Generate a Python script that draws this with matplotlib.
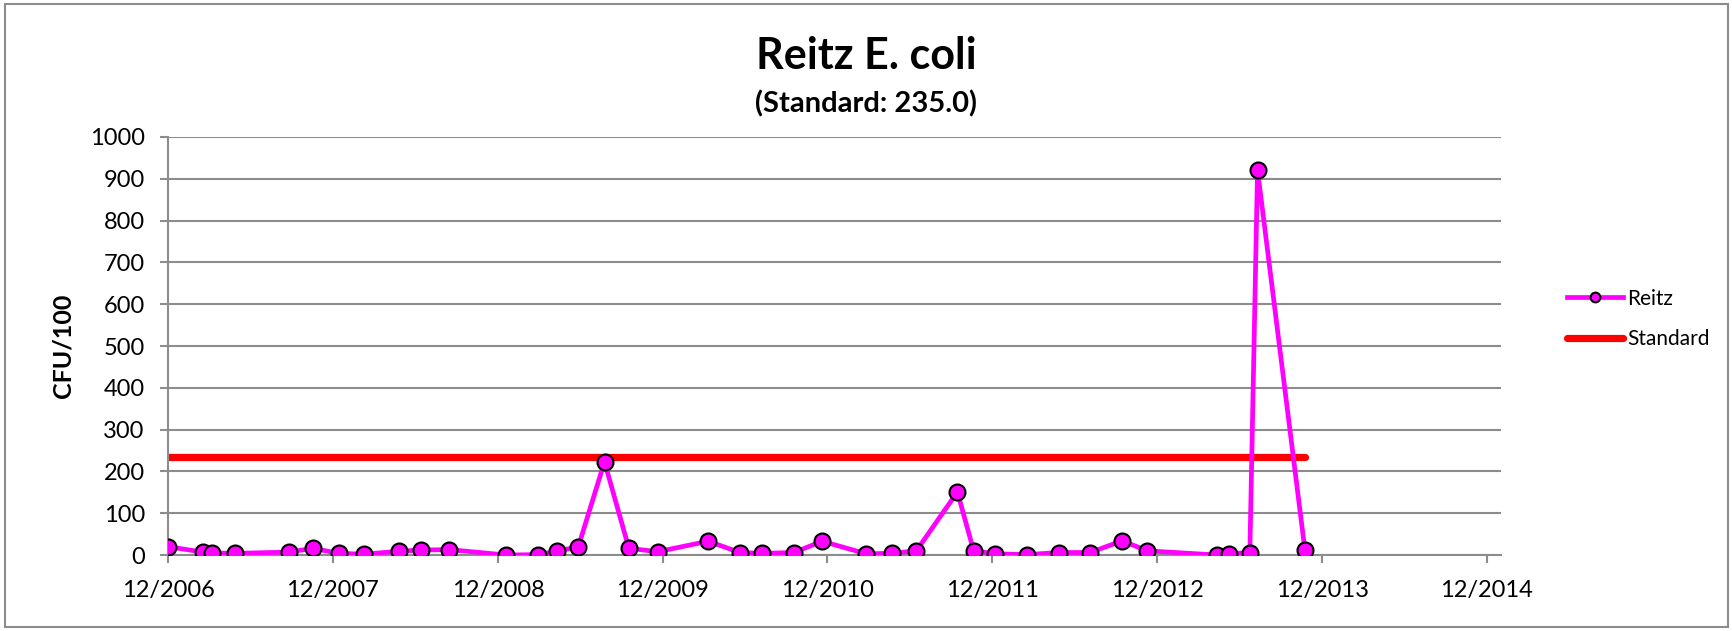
import pandas as pd
import matplotlib.pyplot as plt
import matplotlib.dates as mdates
from matplotlib.patches import Rectangle

plt.rcParams['font.family'] = ['Lato', 'DejaVu Sans']

# sample dates and E. coli counts
dates = pd.to_datetime([
    "2006-12-01", "2007-02-16", "2007-03-09", "2007-04-28", "2007-08-25",
    "2007-10-18", "2007-12-14", "2008-02-08", "2008-04-26", "2008-06-13",
    "2008-08-15", "2008-12-19", "2009-02-27", "2009-04-11", "2009-05-28",
    "2009-07-25", "2009-09-17", "2009-11-20", "2010-03-12", "2010-05-21",
    "2010-07-09", "2010-09-18", "2010-11-19", "2011-02-25", "2011-04-22",
    "2011-06-16", "2011-09-15", "2011-10-21", "2011-12-08", "2012-02-17",
    "2012-04-27", "2012-07-05", "2012-09-14", "2012-11-09", "2013-04-13",
    "2013-05-09", "2013-06-24", "2013-07-11", "2013-10-24",
])
reitz = [20, 7, 5, 4, 7, 16, 4, 2, 9, 12,
         13, 0, 1, 9, 20, 223, 16, 8, 33, 6,
         4, 6, 33, 3, 4, 10, 151, 10, 3, 1,
         6, 6, 34, 10, 0, 3, 6, 921, 12]
standard = 235.0

tick_years = pd.to_datetime(["2006-12-01", "2007-12-01", "2008-12-01", "2009-12-01",
                             "2010-12-01", "2011-12-01", "2012-12-01", "2013-12-01",
                             "2014-12-01"])

fig = plt.figure(figsize=(17.33, 6.31), dpi=100)
ax = fig.add_axes([0.097, 0.1204, 0.769, 0.6625])

ax.plot(dates, reitz, color="#FF00FF", lw=3.4, marker="o", ms=11.5,
        mfc="#FF00FF", mec="black", mew=1.5, label="Reitz", zorder=3)
ax.plot([dates[0], dates[-1]], [standard, standard], color="#FF0000", lw=5.2,
        solid_capstyle="round", label="Standard", zorder=2)

ax.set_ylim(0, 1000)
ax.set_yticks(range(0, 1001, 100))
ax.set_xlim(pd.Timestamp("2006-12-01"), pd.Timestamp("2015-01-01"))
ax.set_xticks(tick_years)
ax.xaxis.set_major_formatter(mdates.DateFormatter("%m/%Y"))

ax.grid(axis="y", color="#8c8c8c", lw=1.5)
ax.set_axisbelow(True)
for s in ["top", "right"]:
    ax.spines[s].set_visible(False)
for s in ["left", "bottom"]:
    ax.spines[s].set_color("#8c8c8c")
    ax.spines[s].set_linewidth(1.5)
ax.tick_params(axis="both", colors="#8c8c8c", width=1.5, length=5.8,
               labelsize=17, labelcolor="black")
ax.tick_params(axis="x", pad=12)
ax.tick_params(axis="y", pad=11)

ax.set_ylabel("CFU/100", fontsize=18, fontweight="bold")
ax.yaxis.set_label_coords(-0.07, 0.5)

fig.text(0.5, 0.912, "Reitz E. coli", ha="center", va="center",
         fontsize=31, fontweight="bold")
fig.text(0.5, 0.835, "(Standard: 235.0)", ha="center", va="center",
         fontsize=21, fontweight="bold")

leg = ax.legend(loc="center left", bbox_to_anchor=(0.904, 0.4945),
                bbox_transform=fig.transFigure, frameon=False, fontsize=15,
                handlelength=2.7, handletextpad=0.2, labelspacing=1.0,
                borderaxespad=0, borderpad=0)
leg.legend_handles[0].set_markersize(7)

fig.patches.append(Rectangle((0.003, 0.006), 0.994, 0.988, transform=fig.transFigure,
                             fill=False, edgecolor="#8c8c8c", lw=1.5))

plt.savefig("out.png", dpi=100)
